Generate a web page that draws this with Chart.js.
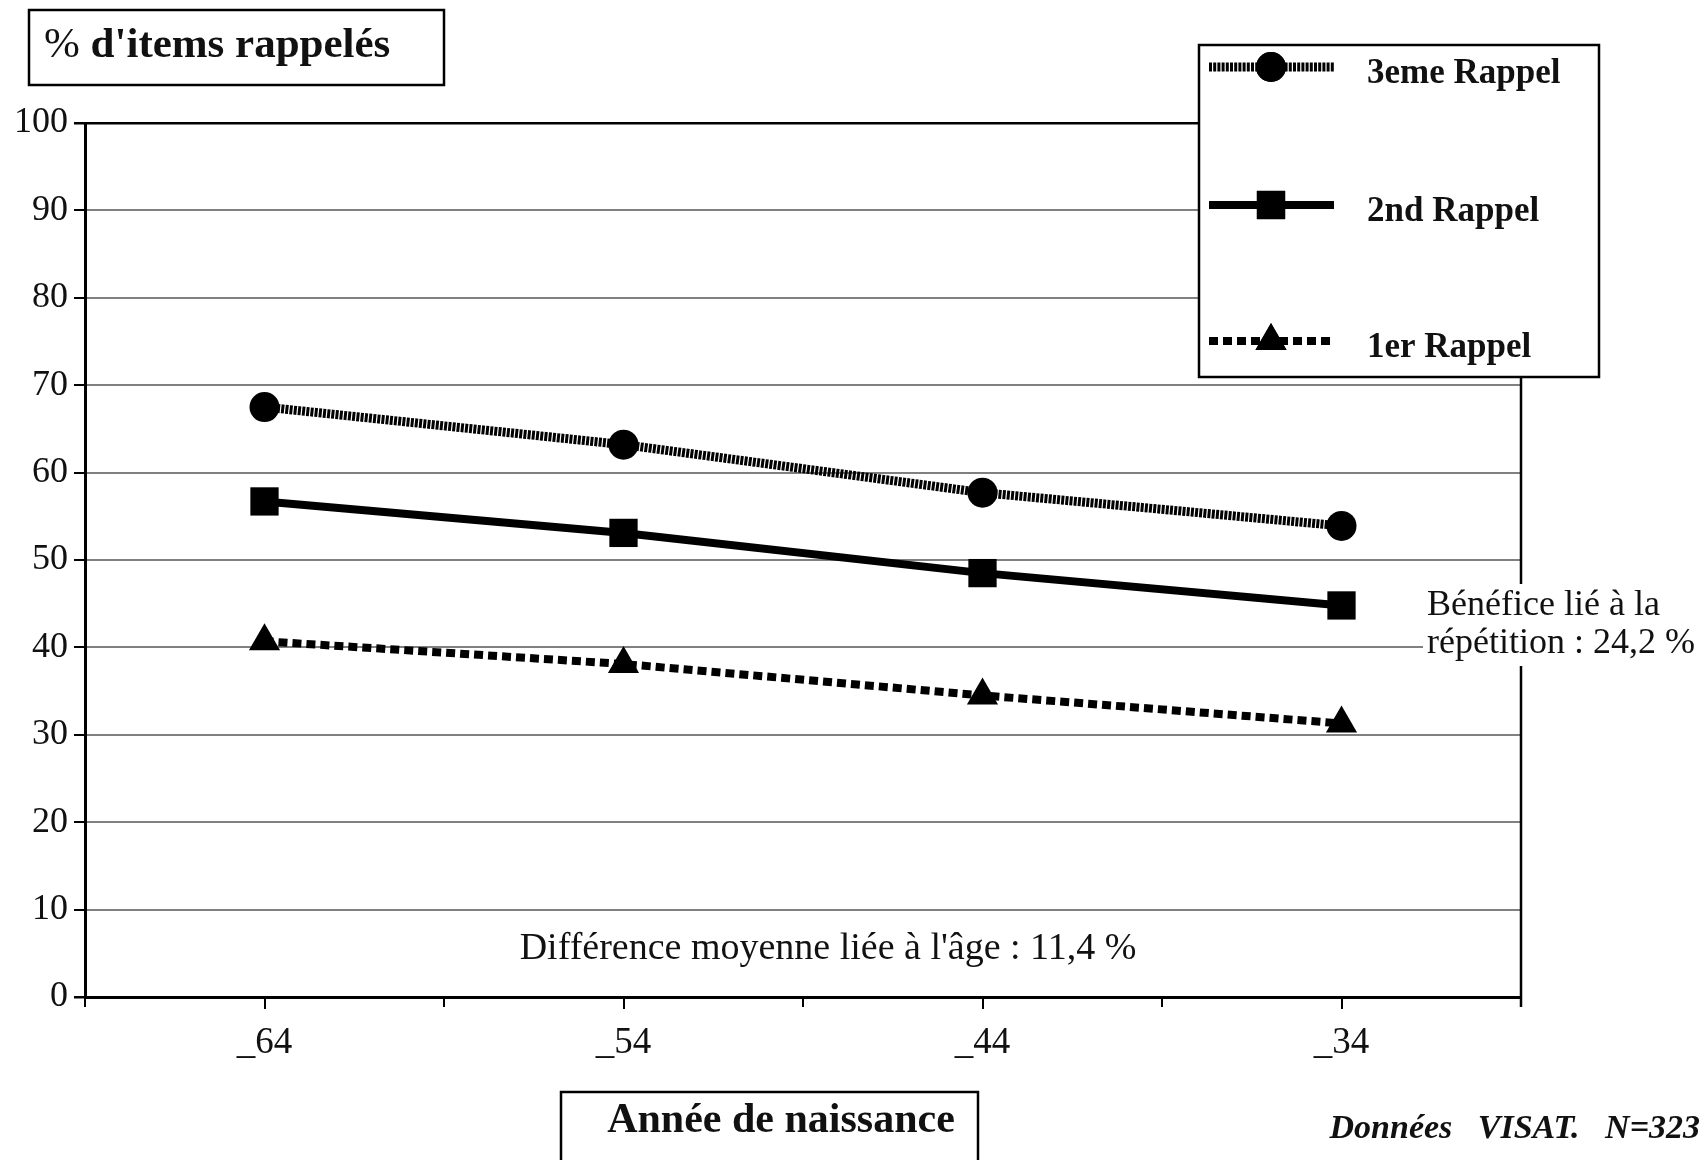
<!DOCTYPE html>
<html lang="fr">
<head>
<meta charset="utf-8">
<title>% d'items rappelés</title>
<script src="https://cdn.jsdelivr.net/npm/chart.js@4.4.1/dist/chart.umd.min.js"></script>
<style>
  html, body { margin: 0; padding: 0; background: #fff; }
  #chart { display: block; }
</style>
</head>
<body>
<canvas id="chart" width="1704" height="1160"></canvas>
<script>
// Année de naissance (categories) and % d'items rappelés per rappel
const categories = ['_64', '_54', '_44', '_34'];
const rappel3 = [67.5, 63.2, 57.7, 53.9];
const rappel2 = [56.7, 53.1, 48.5, 44.8];
const rappel1 = [40.7, 38.1, 34.5, 31.3];
const yTicks = [0, 10, 20, 30, 40, 50, 60, 70, 80, 90, 100];

const SERIF = "'Liberation Serif', 'Times New Roman', serif";

// boxes, annotations, legend and frame drawn over the chart
const decorations = {
    id: 'decorations',
    afterDraw(chart) {
        const c = chart.ctx;
        const area = chart.chartArea;
        const x = chart.scales.x;
        c.save();

        // right border of the plot
        c.strokeStyle = '#000';
        c.lineWidth = 2.5;
        c.beginPath();
        c.moveTo(area.right, area.top);
        c.lineTo(area.right, area.bottom + 10);
        c.stroke();

        // minor ticks between categories
        c.lineWidth = 2;
        const step = x.getPixelForTick(1) - x.getPixelForTick(0);
        for (let i = 0; i <= categories.length; i++) {
            const px = x.getPixelForTick(0) - step / 2 + i * step;
            c.beginPath();
            c.moveTo(px, area.bottom);
            c.lineTo(px, area.bottom + 10);
            c.stroke();
        }

        // y title box
        c.fillStyle = '#fff';
        c.fillRect(29, 10, 415, 75);
        c.lineWidth = 2.5;
        c.strokeRect(29, 10, 415, 75);
        c.fillStyle = '#111';
        c.textBaseline = 'middle';
        c.textAlign = 'left';
        c.font = '43px ' + SERIF;
        c.fillText('%', 44, 46);
        const w = c.measureText('% ').width;
        c.font = 'bold 43px ' + SERIF;
        c.fillText("d'items rappelés", 44 + w, 46);

        // x title box
        c.fillStyle = '#fff';
        c.fillRect(561, 1092, 417, 80);
        c.strokeRect(561, 1092, 417, 80);
        c.fillStyle = '#111';
        c.textAlign = 'center';
        c.font = 'bold 42px ' + SERIF;
        c.fillText('Année de naissance', 781, 1121);

        // source
        c.textAlign = 'right';
        c.font = 'italic bold 34px ' + SERIF;
        c.fillText('Données   VISAT.   N=323', 1700, 1129);

        // age difference note
        c.textAlign = 'center';
        c.font = '38px ' + SERIF;
        c.fillText("Différence moyenne liée à l'âge : 11,4 %", 828, 949);

        // repetition note, with white background over the frame
        c.font = '36px ' + SERIF;
        c.textAlign = 'left';
        const l1 = 'Bénéfice lié à la';
        const l2 = 'répétition : 24,2 %';
        const bw = Math.max(c.measureText(l1).width, c.measureText(l2).width);
        c.fillStyle = '#fff';
        c.fillRect(1423, 584, bw + 8, 82);
        c.fillStyle = '#111';
        c.fillText(l1, 1427, 606);
        c.fillText(l2, 1427, 644);

        // legend
        c.fillStyle = '#fff';
        c.fillRect(1199, 45, 400, 332);
        c.strokeStyle = '#000';
        c.lineWidth = 2.5;
        c.strokeRect(1199, 45, 400, 332);
        const rows = [67, 205, 341];
        chart.data.datasets.forEach((ds, i) => {
            const y = rows[i];
            c.save();
            c.strokeStyle = ds.borderColor;
            c.lineWidth = ds.borderWidth;
            c.setLineDash(ds.borderDash || []);
            c.beginPath();
            c.moveTo(1209, y);
            c.lineTo(1334, y);
            c.stroke();
            c.restore();
            c.fillStyle = '#000';
            Chart.helpers.drawPoint(c, {
                pointStyle: ds.pointStyle,
                radius: ds.pointRadius,
                borderWidth: 0
            }, 1271, y);
            c.fill();
            c.fillStyle = '#111';
            c.textAlign = 'left';
            c.font = 'bold 35px ' + SERIF;
            c.fillText(ds.label, 1367, y + 7);
        });

        c.restore();
    }
};

const ctx = document.getElementById('chart');

new Chart(ctx, {
    type: 'line',
    data: {
        labels: categories,
        datasets: [{
            label: '3eme Rappel',
            data: rappel3,
            borderColor: '#000',
            borderWidth: 9,
            borderDash: [3, 1.2],
            pointStyle: 'circle',
            pointRadius: 15,
            pointBackgroundColor: '#000',
            pointBorderWidth: 0
        }, {
            label: '2nd Rappel',
            data: rappel2,
            borderColor: '#000',
            borderWidth: 8,
            pointStyle: 'rect',
            pointRadius: 20,
            pointBackgroundColor: '#000',
            pointBorderWidth: 0
        }, {
            label: '1er Rappel',
            data: rappel1,
            borderColor: '#000',
            borderWidth: 8,
            borderDash: [9, 5],
            pointStyle: 'triangle',
            pointRadius: 18,
            pointBackgroundColor: '#000',
            pointBorderWidth: 0
        }]
    },
    options: {
        responsive: false,
        animation: false,
        layout: {
            padding: { top: 123, right: 183, left: 0, bottom: 0 }
        },
        plugins: {
            legend: { display: false },
            title: { display: false },
            tooltip: { enabled: false }
        },
        scales: {
            x: {
                type: 'category',
                offset: true,
                afterFit: function(scale) { scale.height = 163; },
                grid: {
                    drawOnChartArea: false,
                    drawTicks: true,
                    tickLength: 12,
                    color: '#000',
                    lineWidth: 2
                },
                border: { display: true, color: '#000', width: 3 },
                ticks: {
                    color: '#111',
                    padding: 12,
                    font: { family: SERIF, size: 37 }
                }
            },
            y: {
                min: 0,
                max: 100,
                afterFit: function(scale) { scale.width = 85; },
                afterBuildTicks: function(scale) {
                    scale.ticks = yTicks.map(v => ({ value: v }));
                },
                grid: {
                    color: function(c) {
                        const v = c.tick && c.tick.value;
                        return (v === 0 || v === 100) ? '#000' : '#808080';
                    },
                    lineWidth: function(c) {
                        const v = c.tick && c.tick.value;
                        return (v === 0 || v === 100) ? 2.5 : 2;
                    },
                    tickColor: '#000',
                    tickLength: 11
                },
                border: { display: true, color: '#000', width: 3 },
                ticks: {
                    color: '#111',
                    padding: 6,
                    font: { family: SERIF, size: 36 }
                }
            }
        }
    },
    plugins: [decorations]
});
</script>
</body>
</html>
